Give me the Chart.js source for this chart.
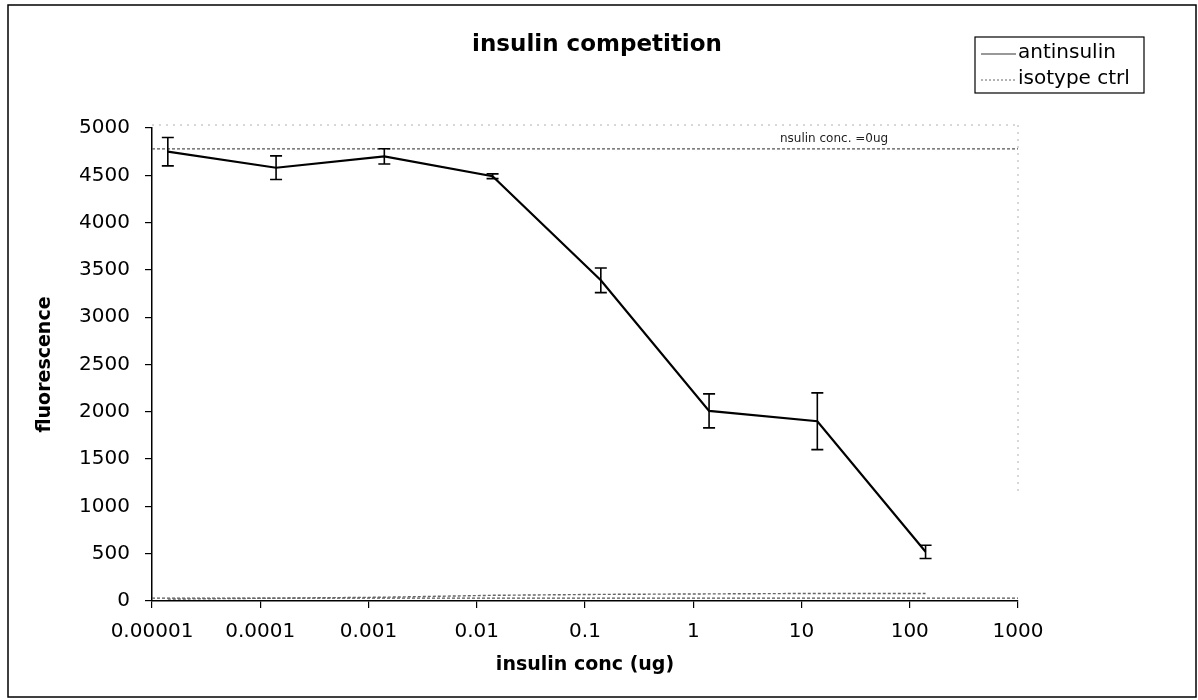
<!DOCTYPE html>
<html>
<head>
<meta charset="utf-8">
<script src="https://cdn.jsdelivr.net/npm/chart.js@4.4.1/dist/chart.umd.min.js"></script>
<style>
  html, body { margin: 0; padding: 0; background: #fff; }
  #wrap { width: 1198px; height: 700px; position: relative; }
</style>
</head>
<body>
<div id="wrap"><canvas id="c" width="1198" height="700"></canvas></div>
<script>
// ---- data ----
const concentrations = [0.000014, 0.00014, 0.0014, 0.014, 0.14, 1.4, 14, 140];
const antinsulinValues = [4750, 4580, 4700, 4490, 3390, 2010, 1900, 520];
const antinsulinErrors = [150, 125, 80, 25, 130, 180, 300, 70];
const isotypeValues = [20, 30, 40, 60, 70, 75, 80, 80];
const zeroInsulinLevel = 4780;
const zeroIsotypeLevel = 30;
const refRange = [0.00001, 1000];
const xTickValues = [0.00001, 0.0001, 0.001, 0.01, 0.1, 1, 10, 100, 1000];
const xTickLabels = ['0.00001', '0.0001', '0.001', '0.01', '0.1', '1', '10', '100', '1000'];
const titleText = 'insulin competition';
const xTitleText = 'insulin conc (ug)';
const yTitleText = 'fluorescence';
const refLabelText = 'nsulin conc. =0ug';
const refLabelAt = 20;
const legendLabels = ['antinsulin', 'isotype ctrl'];

const FONT = "'DejaVu Sans', sans-serif";

const antiData = concentrations.map((x, i) => ({ x, y: antinsulinValues[i] }));
const isoData = concentrations.map((x, i) => ({ x, y: isotypeValues[i] }));
const refTop = refRange.map(x => ({ x, y: zeroInsulinLevel }));
const refBottom = refRange.map(x => ({ x, y: zeroIsotypeLevel }));

const decorPlugin = {
  id: 'decor',
  beforeDraw(chart) {
    const ctx = chart.ctx;
    ctx.save();
    ctx.fillStyle = '#fff';
    ctx.fillRect(0, 0, chart.width, chart.height);
    ctx.restore();
  },
  beforeDatasetsDraw(chart) {
    const ctx = chart.ctx, a = chart.chartArea;
    ctx.save();
    ctx.strokeStyle = '#b0b0b0';
    ctx.lineWidth = 1;
    ctx.setLineDash([2, 5]);
    ctx.beginPath();
    ctx.moveTo(a.left, a.top - 3); ctx.lineTo(a.right, a.top - 3);
    ctx.moveTo(a.right, a.top - 3); ctx.lineTo(a.right, a.bottom - 110);
    ctx.stroke();
    ctx.restore();
  },
  afterDatasetsDraw(chart) {
    const ctx = chart.ctx, xs = chart.scales.x, ys = chart.scales.y;
    ctx.save();
    ctx.strokeStyle = '#000';
    ctx.lineWidth = 1.6;
    concentrations.forEach((c, i) => {
      const px = xs.getPixelForValue(c);
      const top = ys.getPixelForValue(antinsulinValues[i] + antinsulinErrors[i]);
      const bot = ys.getPixelForValue(antinsulinValues[i] - antinsulinErrors[i]);
      ctx.beginPath();
      ctx.moveTo(px, top); ctx.lineTo(px, bot);
      ctx.moveTo(px - 6, top); ctx.lineTo(px + 6, top);
      ctx.moveTo(px - 6, bot); ctx.lineTo(px + 6, bot);
      ctx.stroke();
    });
    ctx.fillStyle = '#222';
    ctx.font = '12px ' + FONT;
    ctx.textAlign = 'center';
    ctx.textBaseline = 'middle';
    ctx.fillText(refLabelText, xs.getPixelForValue(refLabelAt), ys.getPixelForValue(zeroInsulinLevel) - 10);
    ctx.restore();
  },
  afterDraw(chart) {
    const ctx = chart.ctx, a = chart.chartArea;
    ctx.save();
    ctx.strokeStyle = '#000';
    ctx.lineWidth = 1.5;
    ctx.strokeRect(8, 5, 1188, 692);
    ctx.fillStyle = '#000';
    ctx.textAlign = 'center';
    ctx.textBaseline = 'middle';
    ctx.font = 'bold 23px ' + FONT;
    ctx.fillText(titleText, 597, 45);
    ctx.font = 'bold 19px ' + FONT;
    ctx.fillText(xTitleText, (a.left + a.right) / 2, 665);
    ctx.save();
    ctx.translate(45, (a.top + a.bottom) / 2);
    ctx.rotate(-Math.PI / 2);
    ctx.fillText(yTitleText, 0, 0);
    ctx.restore();
    ctx.lineWidth = 1.2;
    ctx.strokeStyle = '#000';
    ctx.strokeRect(975, 37, 169, 56);
    ctx.font = '20px ' + FONT;
    ctx.textAlign = 'left';
    const rows = [53, 79];
    const styles = [{ c: '#333', d: [] }, { c: '#666', d: [2, 2] }];
    legendLabels.forEach((t, i) => {
      ctx.beginPath();
      ctx.strokeStyle = styles[i].c;
      ctx.setLineDash(styles[i].d);
      ctx.lineWidth = 1;
      ctx.moveTo(981, rows[i] + 1); ctx.lineTo(1016, rows[i] + 1);
      ctx.stroke();
      ctx.setLineDash([]);
      ctx.fillStyle = '#000';
      ctx.fillText(t, 1018, rows[i]);
    });
    ctx.restore();
  }
};

new Chart(document.getElementById('c'), {
  type: 'line',
  data: {
    datasets: [
      { label: legendLabels[0], data: antiData, borderColor: '#000', borderWidth: 2.2,
        pointRadius: 0, tension: 0, order: 1 },
      { label: legendLabels[1], data: isoData, borderColor: '#666', borderWidth: 1.4,
        borderDash: [3, 2], pointRadius: 0, tension: 0, order: 2 },
      { label: 'ref0', data: refTop, borderColor: '#555', borderWidth: 1.2,
        borderDash: [3, 2], pointRadius: 0, tension: 0, order: 3 },
      { label: 'ref0iso', data: refBottom, borderColor: '#555', borderWidth: 1.3,
        borderDash: [3, 2], pointRadius: 0, tension: 0, order: 4 }
    ]
  },
  options: {
    responsive: false,
    animation: false,
    events: [],
    layout: { padding: { left: 10, right: 180, top: 128, bottom: 10 } },
    plugins: { legend: { display: false }, title: { display: false }, tooltip: { enabled: false } },
    scales: {
      x: {
        type: 'logarithmic',
        min: refRange[0], max: refRange[1],
        afterBuildTicks(scale) { scale.ticks = xTickValues.map(v => ({ value: v })); },
        afterFit(scale) { scale.height = 89; },
        ticks: {
          autoSkip: false, maxRotation: 0, color: '#000', padding: 12,
          font: { family: FONT, size: 20 },
          callback(v) { const i = xTickValues.findIndex(t => Math.abs(Math.log10(t) - Math.log10(v)) < 1e-6); return i >= 0 ? xTickLabels[i] : ''; }
        },
        grid: { drawOnChartArea: false, drawTicks: true, tickLength: 7, color: '#000', lineWidth: 1.2 },
        border: { color: '#000', width: 1.5 }
      },
      y: {
        min: 0, max: 5000,
        afterFit(scale) { scale.width = 142; },
        ticks: { stepSize: 500, color: '#000', padding: 15, font: { family: FONT, size: 20 },
          callback(v) { return String(v); } },
        grid: { drawOnChartArea: false, drawTicks: true, tickLength: 7, color: '#000', lineWidth: 1.2 },
        border: { color: '#000', width: 1.5 }
      }
    }
  },
  plugins: [decorPlugin]
});
</script>
</body>
</html>
